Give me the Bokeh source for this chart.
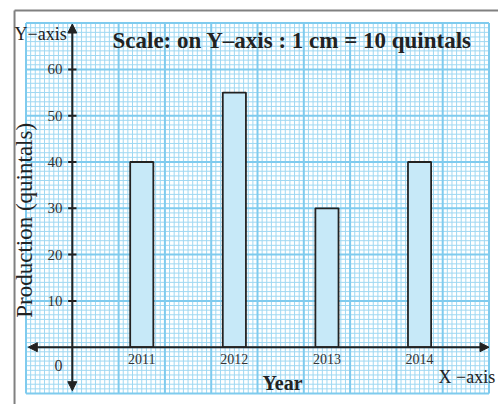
from bokeh.plotting import figure
from bokeh.models import Arrow, NormalHead, Range1d
from bokeh.core.properties import value
from bokeh.embed import file_html
from bokeh.resources import INLINE

# ---- data ----
years = ["2011", "2012", "2013", "2014"]
production = [40, 55, 30, 40]
y_ticks = [10, 20, 30, 40, 50, 60]
title_text = "Scale: on Y\u2013axis : 1 cm = 10 quintals"

FONT = value("Liberation Serif")
INK = "#222222"

# x in cm from the Y-axis, y in quintals
p = figure(width=498, height=404, output_backend="svg", toolbar_location=None,
           x_range=Range1d(-1.551, 9.205), y_range=Range1d(-12.38, 74.88),
           min_border=0, outline_line_color=None)
p.xaxis.visible = False
p.yaxis.visible = False
p.xgrid.visible = False
p.ygrid.visible = False
p.background_fill_color = "white"
p.border_fill_color = "white"

# graph paper: 1 mm minor, 1 cm major (1 cm = 10 quintals on y)
minor_x = [-1 + 0.1 * k for k in range(101) if k % 10 != 0]
major_x = [-1 + k for k in range(11)]
minor_y = [v for v in range(-10, 71) if v % 10 != 0]
major_y = [v for v in range(-10, 71, 10)]
p.segment(x0=minor_x, y0=-10, x1=minor_x, y1=70, line_color="#9fd8f2", line_width=1)
p.segment(x0=-1, y0=minor_y, x1=9, y1=minor_y, line_color="#9fd8f2", line_width=1)
p.segment(x0=major_x, y0=-10, x1=major_x, y1=70, line_color="#7fcbee", line_width=2)
p.segment(x0=-1, y0=major_y, x1=9, y1=major_y, line_color="#7fcbee", line_width=2)

# page frame
p.segment(x0=[-1.248, -1.248], y0=[72.72, 72.72], x1=[9.3, -1.248], y1=[72.72, -12.5],
          line_color="#808080", line_width=2)

# bars
centers = [1.5 + 2 * i for i in range(len(years))]
p.vbar(x=centers, top=production, bottom=0, width=0.5,
       fill_color="#c7e9f8", line_color=INK, line_width=1.8)

# axes with arrows
p.add_layout(Arrow(start=NormalHead(size=9, fill_color=INK, line_color=INK),
                   end=NormalHead(size=9, fill_color=INK, line_color=INK),
                   x_start=0, y_start=-9.4, x_end=0, y_end=69.8,
                   line_color=INK, line_width=2))
p.add_layout(Arrow(start=NormalHead(size=9, fill_color=INK, line_color=INK),
                   end=NormalHead(size=9, fill_color=INK, line_color=INK),
                   x_start=-0.95, y_start=0, x_end=9.0, y_end=0,
                   line_color=INK, line_width=2))

# y ticks and labels
p.segment(x0=-0.09, y0=y_ticks, x1=0.09, y1=y_ticks, line_color=INK, line_width=2)
p.text(x=-0.21, y=y_ticks, text=[str(t) for t in y_ticks], text_font=FONT,
       text_font_size="15px", text_align="right", text_baseline="middle", text_color="#333333")
p.text(x=[-0.30], y=[-3.95], text=["0"], text_font=FONT, text_font_size="16px",
       text_align="center", text_baseline="middle", text_color="#333333")

# year labels
p.text(x=centers, y=-2.45, text=years, text_font=FONT, text_font_size="14px",
       text_align="center", text_baseline="middle", text_color="#333333")

# titles
p.text(x=[0.868], y=[66.2], text=[title_text], text_font=FONT, text_font_size="23px",
       text_font_style="bold", text_align="left", text_baseline="middle", text_color=INK)
p.text(x=[-1.248], y=[67.6], text=["Y\u2212axis"], text_font=FONT, text_font_size="18px",
       text_align="left", text_baseline="middle", text_color=INK)
p.text(x=[-1.03], y=[27.4], text=["Production (quintals)"], text_font=FONT,
       text_font_size="23px", angle=1.5708, text_align="center", text_baseline="middle",
       text_color=INK)
p.text(x=[4.54], y=[-7.84], text=["Year"], text_font=FONT, text_font_size="20px",
       text_font_style="bold", text_align="center", text_baseline="middle", text_color=INK)
p.text(x=[7.91], y=[-6.5], text=["X \u2212axis"], text_font=FONT, text_font_size="18px",
       text_align="left", text_baseline="middle", text_color=INK)

open("out.html", "w").write(file_html(p, INLINE))
